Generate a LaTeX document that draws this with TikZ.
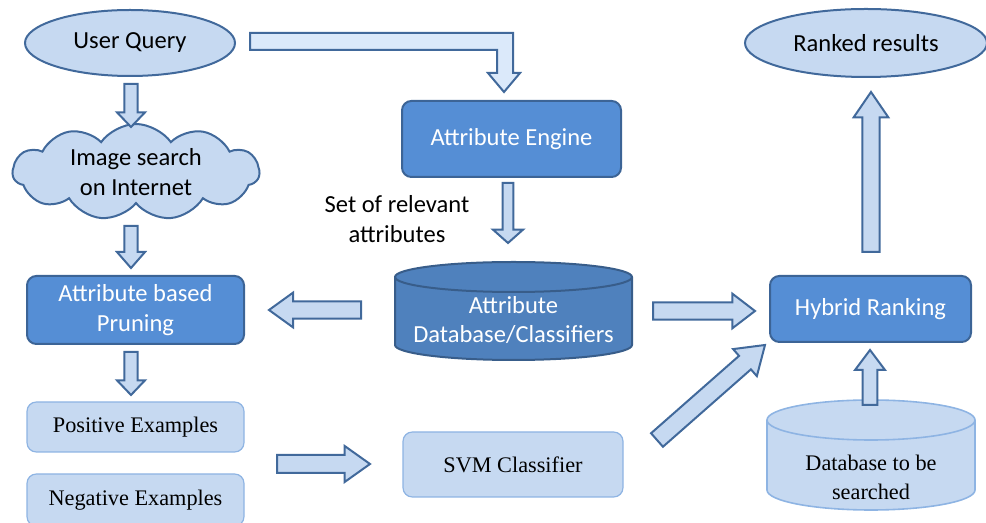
\documentclass[tikz,border=0pt]{standalone}
\usepackage{fontspec}
\setmainfont{Carlito}
\newfontfamily\seriffont{Liberation Serif}
\usetikzlibrary{shapes.geometric,shapes.symbols,calc}
\definecolor{lightfill}{RGB}{198,217,241}
\definecolor{palefill}{RGB}{219,233,250}
\definecolor{edgeblue}{RGB}{65,105,155}
\definecolor{darkfill}{RGB}{85,142,213}
\definecolor{darkedge}{RGB}{60,100,150}
\definecolor{dbfill}{RGB}{79,129,189}
\definecolor{dbedge}{RGB}{56,93,138}
\definecolor{softedge}{RGB}{142,180,227}
\newcommand{\barrow}[6][]{%
  \coordinate (bh) at ($(#3)!#6!(#2)$);
  \draw[blockarrow,#1] ($(#2)!#4!90:(#3)$) -- ($(bh)!#4!90:(#3)$) -- ($(bh)!#5!90:(#3)$) -- (#3) -- ($(bh)!#5!-90:(#3)$) -- ($(bh)!#4!-90:(#3)$) -- ($(#2)!#4!-90:(#3)$) -- cycle;}
\tikzset{
  sanstext/.style={font=\fontsize{18.4pt}{22pt}\selectfont},
  seriftext/.style={font=\seriffont\fontsize{16.7pt}{21.75pt}\selectfont},
  ell/.style={ellipse, draw=edgeblue, fill=lightfill, line width=1.5pt, inner sep=0pt, sanstext},
  darkbox/.style={rectangle, rounded corners=7pt, draw=darkedge, fill=darkfill, line width=1.5pt, inner sep=0pt, sanstext, text=white, align=center},
  lightbox/.style={rectangle, rounded corners=7pt, draw=softedge, fill=lightfill, line width=0.9pt, inner sep=0pt, seriftext, align=center},
  blockarrow/.style={draw=edgeblue, fill=lightfill, line width=1.5pt, line join=miter},
  cloudnode/.style={cloud, cloud puffs=11, cloud puff arc=110, aspect=2.6, draw=edgeblue, fill=lightfill, line width=1.5pt, inner sep=0pt, sanstext, align=center},
}
\begin{document}
\begin{tikzpicture}[x=0.75pt,y=-0.75pt]
\useasboundingbox (0,0) rectangle (986,523);
% nodes
\node[ell, minimum width=157.5pt, minimum height=49.5pt] (uq) at (130,43) {User Query};
\node[ell, minimum width=181.5pt, minimum height=51pt] (rr) at (866,43) {Ranked results};
\node[cloudnode, minimum width=185pt, minimum height=66pt] (cloud) at (136,172) {Image search\\on Internet};
\node[darkbox, minimum width=164.25pt, minimum height=57pt] (ae) at (511.5,139) {Attribute Engine};
\node[darkbox, minimum width=162.75pt, minimum height=51pt] (pr) at (135.5,310) {Attribute based\\Pruning};
\node[darkbox, minimum width=150.75pt, minimum height=49.5pt] (hr) at (870.5,309) {Hybrid Ranking};
\node[lightbox, minimum width=162.75pt, minimum height=37.5pt] (pos) at (135.5,427) {Positive Examples};
\node[lightbox, minimum width=162.75pt, minimum height=39pt] (neg) at (135.5,500) {Negative Examples};
\node[lightbox, minimum width=165pt, minimum height=48.75pt] (svm) at (513,464.5) {SVM Classifier};
\node[sanstext, align=center] (setlbl) at (397,219) {Set of relevant\\attributes};
% attribute database cylinder
\draw[fill=dbfill, draw=dbedge, line width=1.5pt] (395,277) -- (395,345) arc[start angle=180,end angle=0,x radius=118.5,y radius=15] -- (632,277) arc[start angle=0,end angle=-180,x radius=118.5,y radius=15] -- cycle;
\draw[draw=dbedge, line width=1.5pt] (395,277) arc[start angle=180,end angle=0,x radius=118.5,y radius=15];
\node[sanstext, text=white, align=center] (db) at (513.5,320) {Attribute\\Database/Classifiers};
% database to be searched cylinder
\draw[fill=lightfill, draw=softedge, line width=1.2pt] (767,420) -- (767,490) arc[start angle=180,end angle=0,x radius=104,y radius=20] -- (975,420) arc[start angle=0,end angle=-180,x radius=104,y radius=20] -- cycle;
\draw[draw=softedge, line width=1.2pt] (767,420) arc[start angle=180,end angle=0,x radius=104,y radius=20];
\node[seriftext, align=center] (dbs) at (871,477) {Database to be\\searched};
% bent arrow from user query to attribute engine
\draw[blockarrow, fill=palefill] (250,33) -- (513,33) -- (513,73) -- (520,73) -- (504,92) -- (488,73) -- (497,73) -- (497,50) -- (250,50) -- cycle;
% arrow end points
\coordinate (a1s) at (131,84);  \coordinate (a1e) at (131,127);
\coordinate (a2s) at (131,226); \coordinate (a2e) at (131,268);
\coordinate (a3s) at (131,352); \coordinate (a3e) at (131,395);
\coordinate (a4s) at (508,183); \coordinate (a4e) at (508,243);
\coordinate (a5s) at (361,310); \coordinate (a5e) at (269,310);
\coordinate (a6s) at (653,311); \coordinate (a6e) at (755,311);
\coordinate (a7s) at (277,464); \coordinate (a7e) at (370,464);
\coordinate (a8s) at (657,440); \coordinate (a8e) at (765,345);
\coordinate (a9s) at (870,405); \coordinate (a9e) at (870,350);
\coordinate (a10s) at (871,252); \coordinate (a10e) at (871,92);
\barrow{a1s}{a1e}{4.9pt}{10.5pt}{11pt}
\barrow{a2s}{a2e}{4.9pt}{10.5pt}{12pt}
\barrow{a3s}{a3e}{4.9pt}{10.5pt}{11pt}
\barrow{a4s}{a4e}{4.1pt}{11.25pt}{10pt}
\barrow{a5s}{a5e}{6.4pt}{13pt}{18pt}
\barrow{a6s}{a6e}{6.4pt}{13pt}{17pt}
\barrow{a7s}{a7e}{6.75pt}{13.5pt}{19pt}
\barrow{a8s}{a8e}{6.75pt}{13.5pt}{20pt}
\barrow{a9s}{a9e}{5.6pt}{11.25pt}{15pt}
\barrow{a10s}{a10e}{6.4pt}{13pt}{19pt}
\end{tikzpicture}
\end{document}
